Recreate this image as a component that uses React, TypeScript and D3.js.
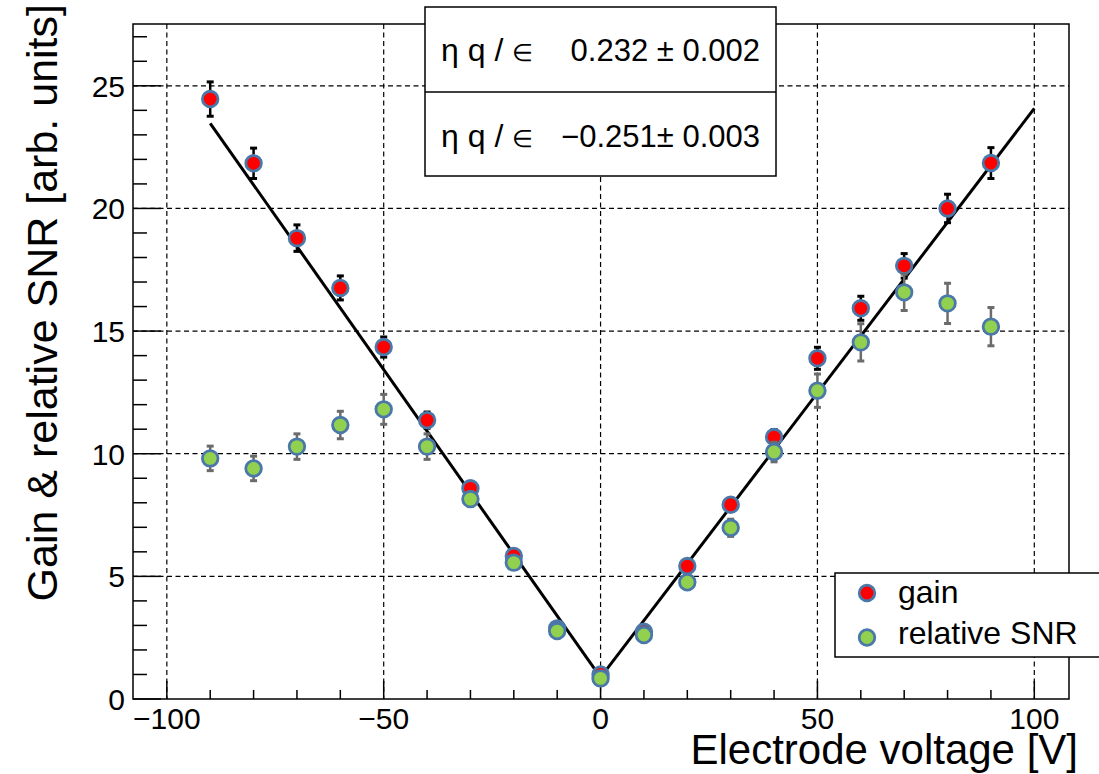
import React, { useEffect, useRef } from 'react';
import * as d3 from 'd3';

// readings
const voltage = [-90, -80, -70, -60, -50, -40, -30, -20, -10, 0, 10, 20, 30, 40, 50, 60, 70, 80, 90];
const gain = [24.46, 21.84, 18.79, 16.76, 14.35, 11.37, 8.59, 5.83, 2.88, 1.0, 2.74, 5.42, 7.92, 10.68, 13.89, 15.93, 17.66, 20.0, 21.85];
const gainErr = [0.7, 0.62, 0.54, 0.49, 0.41, 0.33, 0.25, 0.17, 0.1, 0.05, 0.1, 0.16, 0.23, 0.3, 0.45, 0.49, 0.5, 0.58, 0.63];
const snr = [9.81, 9.4, 10.29, 11.17, 11.81, 10.29, 8.15, 5.56, 2.77, 0.84, 2.61, 4.76, 6.98, 10.07, 12.57, 14.54, 16.58, 16.13, 15.18];
const snrErr = [0.5, 0.5, 0.52, 0.56, 0.61, 0.52, 0.3, 0.25, 0.15, 0.05, 0.15, 0.22, 0.35, 0.4, 0.68, 0.76, 0.74, 0.82, 0.78];

// fit lines (end points)
const fitLeftX = [-90, 0];
const fitLeftY = [23.47, 0.88];
const fitRightX = [0, 100];
const fitRightY = [0.88, 24.08];

const statNames = ['\u03B7 q / ', '\u03B7 q / '];
const statValues = ['0.232 \u00B1 0.002', '\u22120.251\u00B1 0.003'];

const legendNames = ['gain', 'relative SNR'];
const legendFills = ['#ff0000', '#92d050'];

const xTicks = [-100, -50, 0, 50, 100];
const yTicks = [0, 5, 10, 15, 20, 25];

const W = 1099;
const H = 774;
const FONT = '"Liberation Sans", Arial, Helvetica, sans-serif';
const MARKER_EDGE = '#4a78a8';

const App = () => {
	const ref = useRef<SVGSVGElement | null>(null);

	useEffect(() => {
		if (!ref.current) return;
		const svg = d3.select(ref.current);
		svg.selectAll('*').remove();

		const m = { l: 133, r: 1069, t: 24, b: 699 };
		const x = d3.scaleLinear().domain([-107.8, 108]).range([m.l, m.r]);
		const y = d3.scaleLinear().domain([0, 27.52]).range([m.b, m.t]);

		// grid
		const grid = svg.append('g').attr('stroke', '#000').attr('stroke-width', 1.2).attr('stroke-dasharray', '5,3.5');
		grid.selectAll('.gx')
			.data(xTicks)
			.join('line')
			.attr('x1', d => x(d)).attr('x2', d => x(d))
			.attr('y1', m.t).attr('y2', m.b);
		grid.selectAll('.gy')
			.data(yTicks.filter(d => d > 0))
			.join('line')
			.attr('x1', m.l).attr('x2', m.r)
			.attr('y1', d => y(d)).attr('y2', d => y(d));

		// ticks
		const ticks = svg.append('g').attr('stroke', '#000').attr('stroke-width', 1.5);
		const xMinor = d3.range(-100, 101, 10);
		ticks.selectAll('.tx')
			.data(xMinor)
			.join('line')
			.attr('x1', d => x(d)).attr('x2', d => x(d))
			.attr('y1', m.b).attr('y2', d => m.b - (d % 50 === 0 ? 18 : 9));
		const yMinor = d3.range(0, 28, 1);
		ticks.selectAll('.ty')
			.data(yMinor)
			.join('line')
			.attr('y1', d => y(d)).attr('y2', d => y(d))
			.attr('x1', m.l).attr('x2', d => m.l + (d % 5 === 0 ? 28 : 14));

		// frame
		svg.append('rect')
			.attr('x', m.l).attr('y', m.t)
			.attr('width', m.r - m.l).attr('height', m.b - m.t)
			.attr('fill', 'none').attr('stroke', '#000').attr('stroke-width', 1.5);

		// tick labels
		svg.append('g')
			.selectAll('text')
			.data(xTicks)
			.join('text')
			.attr('x', d => x(d))
			.attr('y', 729)
			.attr('text-anchor', 'middle')
			.style('font-family', FONT).style('font-size', '30px')
			.text(d => d3.format('')(d).replace('-', '\u2212'));
		svg.append('g')
			.selectAll('text')
			.data(yTicks)
			.join('text')
			.attr('x', 125)
			.attr('y', d => y(d))
			.attr('dy', '0.36em')
			.attr('text-anchor', 'end')
			.style('font-family', FONT).style('font-size', '30px')
			.text(d => d);

		// axis titles
		svg.append('text')
			.attr('x', 1078).attr('y', 764)
			.attr('text-anchor', 'end')
			.style('font-family', FONT).style('font-size', '42px')
			.text('Electrode voltage [V]');
		svg.append('text')
			.attr('transform', 'translate(57, 4) rotate(-90)')
			.attr('text-anchor', 'end')
			.style('font-family', FONT).style('font-size', '43px')
			.text('Gain & relative SNR [arb. units]');

		// fit
		const line = d3.line<[number, number]>().x(d => x(d[0])).y(d => y(d[1]));
		[[fitLeftX, fitLeftY], [fitRightX, fitRightY]].forEach(([xs, ys]) => {
			svg.append('path')
				.attr('d', line(xs.map((v, i) => [v, ys[i]] as [number, number])))
				.attr('fill', 'none').attr('stroke', '#000').attr('stroke-width', 3);
		});

		// series
		const series = [
			{ vals: gain, errs: gainErr, fill: legendFills[0], ecol: '#000' },
			{ vals: snr, errs: snrErr, fill: legendFills[1], ecol: '#6b6b6b' },
		];
		series.forEach(s => {
			const g = svg.append('g');
			const pts = voltage.map((v, i) => ({ v, val: s.vals[i], err: s.errs[i] }));
			g.selectAll('.eb')
				.data(pts)
				.join('line')
				.attr('x1', d => x(d.v)).attr('x2', d => x(d.v))
				.attr('y1', d => y(d.val - d.err)).attr('y2', d => y(d.val + d.err))
				.attr('stroke', s.ecol).attr('stroke-width', 2.5);
			g.selectAll('.cap')
				.data(pts.flatMap(d => [d.val - d.err, d.val + d.err].map(e => ({ v: d.v, e }))))
				.join('line')
				.attr('x1', d => x(d.v) - 3.5).attr('x2', d => x(d.v) + 3.5)
				.attr('y1', d => y(d.e)).attr('y2', d => y(d.e))
				.attr('stroke', s.ecol).attr('stroke-width', 3);
			g.selectAll('circle')
				.data(pts)
				.join('circle')
				.attr('cx', d => x(d.v)).attr('cy', d => y(d.val))
				.attr('r', 7.8)
				.attr('fill', s.fill)
				.attr('stroke', MARKER_EDGE).attr('stroke-width', 2.8);
		});

		// stats box
		const box = svg.append('g');
		box.append('rect')
			.attr('x', 425).attr('y', 7).attr('width', 351).attr('height', 169)
			.attr('fill', '#fff').attr('stroke', '#000').attr('stroke-width', 1.5);
		box.append('line')
			.attr('x1', 425).attr('x2', 776).attr('y1', 92).attr('y2', 92)
			.attr('stroke', '#000').attr('stroke-width', 1.5);
		statNames.forEach((n, i) => {
			const t = box.append('text')
				.attr('x', 441).attr('y', 61 + i * 86)
				.style('font-family', FONT).style('font-size', '32px');
			t.append('tspan').text(n);
			t.append('tspan').style('font-size', '24px').text('\u2208');
			box.append('text')
				.attr('x', 760).attr('y', 61 + i * 86)
				.attr('text-anchor', 'end')
				.style('font-family', FONT).style('font-size', '31px')
				.text(statValues[i]);
		});

		// legend
		const leg = svg.append('g');
		leg.append('rect')
			.attr('x', 835).attr('y', 573).attr('width', 300).attr('height', 84)
			.attr('fill', '#fff').attr('stroke', '#000').attr('stroke-width', 1.5);
		legendNames.forEach((n, i) => {
			leg.append('circle')
				.attr('cx', 867).attr('cy', 593 + i * 44.5)
				.attr('r', 7.8)
				.attr('fill', legendFills[i])
				.attr('stroke', MARKER_EDGE).attr('stroke-width', 2.8);
			leg.append('text')
				.attr('x', 898).attr('y', 603 + i * 41)
				.style('font-family', FONT).style('font-size', '32px')
				.text(n);
		});
	}, []);

	return (
		<svg
			ref={ref}
			width={W}
			height={H}
			style={{ position: 'absolute', left: 0, top: 0, background: '#fff', overflow: 'hidden' }}
		/>
	);
};

export default App;
